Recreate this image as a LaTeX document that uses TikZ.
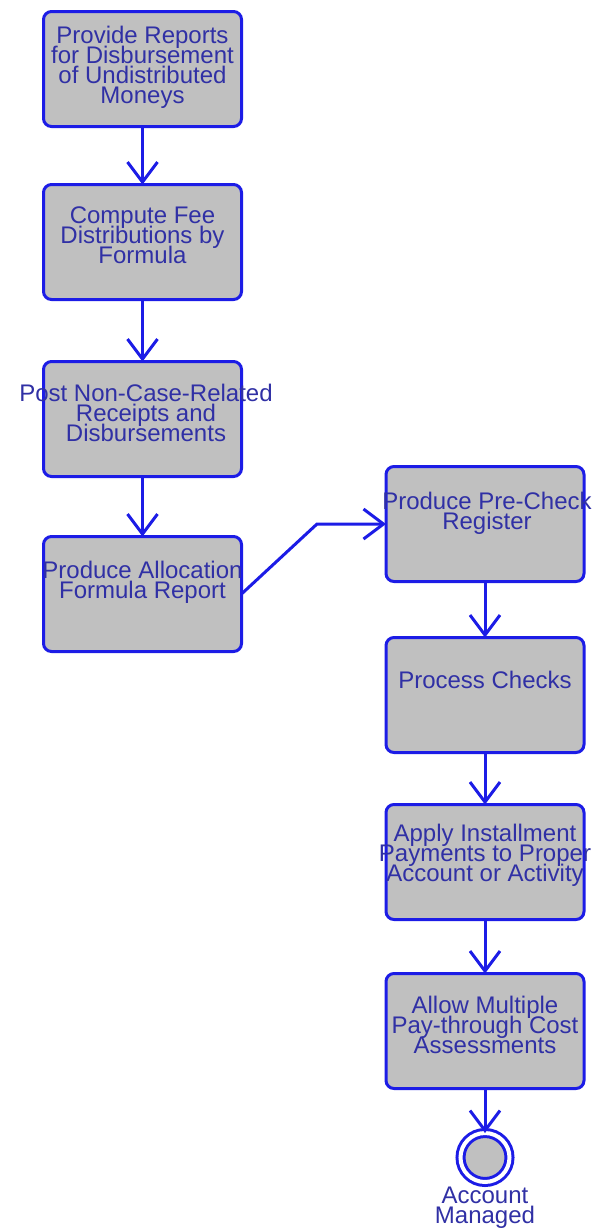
\documentclass[tikz,border=0pt]{standalone}
\usepackage{fontspec}
\setmainfont{Liberation Sans}
\usetikzlibrary{positioning,arrows.meta}
\definecolor{actblue}{RGB}{28,28,230}
\definecolor{textnavy}{RGB}{48,48,165}
\definecolor{actgray}{RGB}{192,192,192}
\newcommand\actfont{\fontsize{12}{10}\selectfont\lineskiplimit=-20pt\relax}

\begin{document}
\begin{tikzpicture}[x=0.5pt,y=-0.5pt,>={Straight Barb[length=10pt,width=15pt]}]
  \tikzset{
    act/.style={draw=actblue,fill=actgray,line width=1.5pt,rounded corners=4pt,minimum width=99pt,minimum height=57.5pt,inner sep=0pt,outer sep=0pt},
    txt/.style={text=textnavy,font=\actfont,align=center,inner sep=0pt},
    flow/.style={draw=actblue,line width=1.5pt,->},
    final/.style={circle,draw=actblue,fill=actgray,line width=1.5pt,double=white,double distance=2pt,minimum size=24.5pt,inner sep=0pt,outer sep=0pt},
  }
  \useasboundingbox (0,0) rectangle (599,1232);

  % left column
  \node[act] (reports) at (142.5,69) {};
  \node[act] (fees) at (142.5,242) {};
  \node[act] (receipts) at (142.5,419) {};
  \node[act] (alloc) at (142.5,594) {};
  % right column
  \node[act] (precheck) at (485,524) {};
  \node[act] (checks) at (485,695) {};
  \node[act] (install) at (485,862) {};
  \node[act] (costs) at (485,1031) {};
  \node[final] (managed) at (485,1157.5) {};
  \coordinate (bend) at (317,524);

  \draw[flow] (reports) -- (fees);
  \draw[flow] (fees) -- (receipts);
  \draw[flow] (receipts) -- (alloc);
  \draw[flow] (alloc.east) -- (bend) -- (precheck.west);
  \draw[flow] (precheck) -- (checks);
  \draw[flow] (checks) -- (install);
  \draw[flow] (install) -- (costs);
  \draw[flow] (costs) -- (managed);

  \node[txt] (reports-t) at (142.5,67) {Provide Reports\\for Disbursement\\of Undistributed\\Moneys};
  \node[txt] (fees-t) at (142.5,235) {Compute Fee\\Distributions by\\Formula};
  \node[txt] (receipts-t) at (146,413) {Post Non-Case-Related\\Receipts and\\Disbursements};
  \node[txt] (alloc-t) at (142.5,582) {Produce Allocation\\Formula Report};
  \node[txt] (precheck-t) at (487,513) {Produce Pre-Check\\Register};
  \node[txt] (checks-t) at (485,680) {Process Checks};
  \node[txt] (install-t) at (485,855) {Apply Installment\\Payments to Proper\\Account or Activity};
  \node[txt] (costs-t) at (485,1025) {Allow Multiple\\Pay-through Cost\\Assessments};
  \node[txt] (managed-t) at (485,1208) {Account\\Managed};
\end{tikzpicture}
\end{document}
